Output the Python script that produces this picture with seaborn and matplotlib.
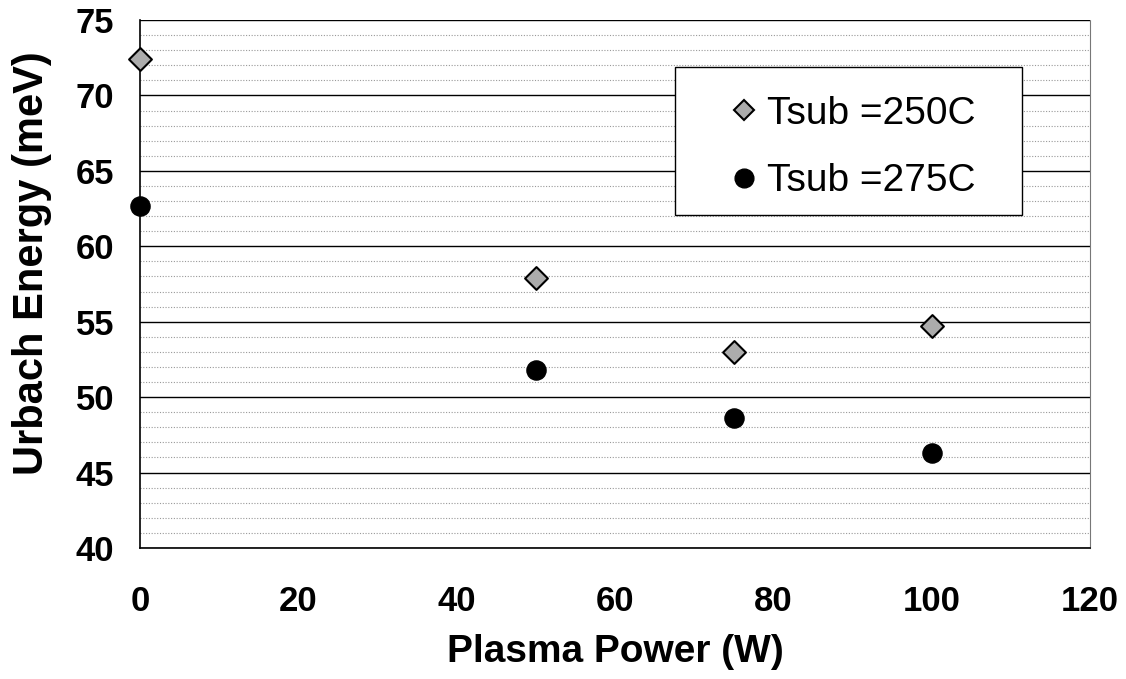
import pandas as pd
import matplotlib.pyplot as plt
import seaborn as sns
from matplotlib.lines import Line2D
from matplotlib.patches import Rectangle
from matplotlib.ticker import MultipleLocator

# Values
power = [0, 50, 75, 100]
urbach_250 = [72.4, 57.9, 53.0, 54.7]
urbach_275 = [62.7, 51.8, 48.6, 46.3]
series_names = ["Tsub =250C", "Tsub =275C"]

df = pd.DataFrame({
    "Plasma Power (W)": power * 2,
    "Urbach Energy (meV)": urbach_250 + urbach_275,
    "Series": [series_names[0]] * len(power) + [series_names[1]] * len(power),
})

sns.set_style("white")
plt.rcParams["font.family"] = ["Liberation Sans", "DejaVu Sans"]
plt.rcParams["text.color"] = "black"
plt.rcParams["axes.labelcolor"] = "black"
plt.rcParams["xtick.color"] = "black"
plt.rcParams["ytick.color"] = "black"

fig = plt.figure(figsize=(11.26, 6.79), dpi=100)
ax = fig.add_axes([0.1243, 0.193, 0.8437, 0.7775])

diamond_df = df[df["Series"] == series_names[0]]
circle_df = df[df["Series"] == series_names[1]]
sns.scatterplot(data=diamond_df, x="Plasma Power (W)", y="Urbach Energy (meV)",
                marker="D", color="#acacac", edgecolor="black", linewidth=1.5,
                s=135, ax=ax, zorder=5, clip_on=False, legend=False)
sns.scatterplot(data=circle_df, x="Plasma Power (W)", y="Urbach Energy (meV)",
                marker="o", color="black", edgecolor="black", linewidth=1.0,
                s=190, ax=ax, zorder=5, clip_on=False, legend=False)

ax.set_xlim(0, 120)
ax.set_ylim(40, 75)
ax.xaxis.set_major_locator(MultipleLocator(20))
ax.yaxis.set_major_locator(MultipleLocator(5))
ax.yaxis.set_minor_locator(MultipleLocator(1))

ax.grid(which="major", axis="y", color="black", linewidth=1.0)
ax.grid(which="minor", axis="y", color="#999999", linewidth=0.8, linestyle=(0, (1, 1.5)))
ax.set_axisbelow(True)

ax.spines["top"].set_visible(False)
ax.spines["right"].set_color("#777777")
ax.spines["right"].set_linestyle((0, (1, 1)))
for side in ["left", "bottom"]:
    ax.spines[side].set_color("black")
    ax.spines[side].set_linewidth(1.2)

ax.tick_params(axis="both", which="major", direction="out", length=8.5, width=1.2,
               labelsize=25, color="black")
ax.tick_params(axis="y", which="major", pad=10)
ax.tick_params(axis="y", which="minor", length=0)
ax.tick_params(axis="x", which="major", pad=18)
for lab in ax.get_xticklabels() + ax.get_yticklabels():
    lab.set_fontweight("bold")

ax.set_xlabel("Plasma Power (W)", fontsize=28, fontweight="bold", labelpad=12)
ax.set_ylabel("Urbach Energy (meV)", fontsize=30, fontweight="bold")
ax.yaxis.set_label_coords(-0.093, 0.54)

# legend box drawn separately so its size can match the original
ax.add_patch(Rectangle((0.563, 0.631), 0.365, 0.280, transform=ax.transAxes,
                       facecolor="white", edgecolor="black", linewidth=1.0,
                       zorder=6))
handles = [
    Line2D([], [], linestyle="none", marker="D", markersize=10,
           markerfacecolor="#acacac", markeredgecolor="black", markeredgewidth=1.5),
    Line2D([], [], linestyle="none", marker="o", markersize=13.5,
           markerfacecolor="black", markeredgecolor="black"),
]
leg = ax.legend(
    handles, series_names, loc="upper left", bbox_to_anchor=(0.615, 0.857),
    fontsize=28, frameon=False, borderpad=0, borderaxespad=0,
    labelspacing=0.82, handlelength=1.0, handletextpad=0.1,
)
leg.set_zorder(7)

fig.savefig("out.png", dpi=100)
